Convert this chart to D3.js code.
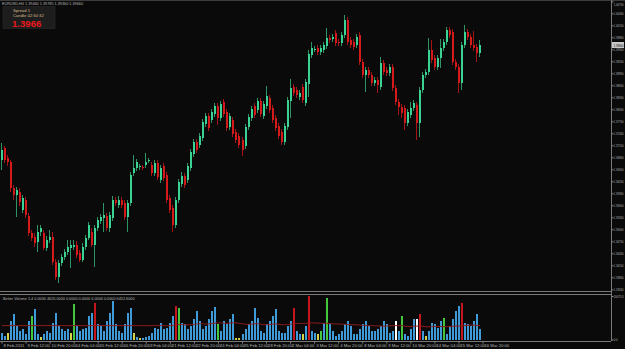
<!DOCTYPE html>
<html>
<head>
<meta charset="utf-8">
<script src="https://cdn.jsdelivr.net/npm/d3@7"></script>
<style>
  body { margin: 0; background: #0a0a0a; }
  svg { display: block; }
  text { font-family: "Liberation Sans", "DejaVu Sans", sans-serif; }
</style>
</head>
<body>
<div id="chart"></div>
<script>
// EURUSD H4 candles
const opens = [
  1.36785,1.37085,1.36835,1.36735,1.36085,1.35910,1.35985,1.35535,1.35785,1.35385,
  1.34960,1.34860,1.34735,1.34985,1.34960,1.34585,1.34785,1.34860,1.34235,1.33860,
  1.34210,1.34360,1.34485,1.34585,1.34610,1.34660,1.34460,1.34285,1.34610,1.34835,
  1.34985,1.34660,1.35085,1.35260,1.35335,1.35385,1.35085,1.35335,1.35785,1.35660,
  1.35785,1.35710,1.35360,1.35710,1.36460,1.36585,1.36610,1.36610,1.36660,1.36760,
  1.36660,1.36460,1.36710,1.36285,1.36635,1.36410,1.35835,1.35585,1.35160,1.35785,
  1.36185,1.36385,1.36285,1.36585,1.36935,1.37235,1.37160,1.37335,1.37685,1.37885,
  1.37785,1.37935,1.38135,1.37835,1.38235,1.37985,1.37610,1.37785,1.37485,1.37385,
  1.37285,1.37135,1.37610,1.37835,1.38135,1.38035,1.38260,1.37885,1.38135,1.38335,
  1.38085,1.37835,1.37635,1.37485,1.37235,1.37610,1.38260,1.38610,1.38535,1.38360,
  1.38610,1.38210,1.38685,1.39410,1.39535,1.39585,1.39485,1.39535,1.39635,1.39835,
  1.39810,1.39960,1.39735,1.39710,1.39910,1.40285,1.39785,1.39735,1.39660,1.39910,
  1.39235,1.38910,1.39035,1.38910,1.38710,1.38785,1.38610,1.39210,1.39035,1.38960,
  1.39110,1.38585,1.38235,1.38110,1.38085,1.37710,1.37910,1.38085,1.38160,1.37710,
  1.38535,1.38910,1.38985,1.39535,1.39335,1.39110,1.39335,1.39585,1.39735,1.40035,
  1.39985,1.39235,1.39110,1.38710,1.39660,1.39985,1.39860,1.39660,1.39610,1.39460
];
const highs = [
  1.37210,1.37135,1.36910,1.36785,1.36160,1.36110,1.36085,1.35910,1.35860,1.35460,
  1.35035,1.34960,1.35160,1.35160,1.35035,1.34885,1.35035,1.34985,1.34310,1.34285,
  1.34435,1.34560,1.34785,1.34785,1.34785,1.34760,1.34535,1.34710,1.34910,1.35235,
  1.35085,1.35160,1.35360,1.35435,1.35710,1.35460,1.35485,1.35885,1.35860,1.35885,
  1.35860,1.35785,1.35785,1.36485,1.36910,1.36810,1.36685,1.36660,1.36960,1.36835,
  1.36735,1.36785,1.36785,1.36660,1.36710,1.36485,1.35910,1.35660,1.35860,1.36310,
  1.36485,1.36460,1.36710,1.37060,1.37310,1.37310,1.37460,1.37810,1.37960,1.37960,
  1.38060,1.38210,1.38210,1.38260,1.38310,1.38060,1.37960,1.37860,1.37560,1.37460,
  1.37360,1.37685,1.37935,1.38135,1.38210,1.38335,1.38335,1.38260,1.38635,1.38410,
  1.38160,1.37910,1.37710,1.37560,1.37710,1.38360,1.38810,1.38685,1.38610,1.38535,
  1.38685,1.38810,1.39535,1.39735,1.39635,1.39660,1.39660,1.39735,1.40085,1.39910,
  1.39935,1.40035,1.39810,1.39985,1.40410,1.40360,1.39860,1.39810,1.39935,1.39985,
  1.39310,1.39110,1.39110,1.38985,1.38860,1.38860,1.39360,1.39285,1.39110,1.39185,
  1.39185,1.38660,1.38310,1.38185,1.38160,1.38060,1.38235,1.38285,1.38235,1.38610,
  1.38985,1.39060,1.39835,1.39785,1.39410,1.39410,1.39810,1.39810,1.40110,1.40110,
  1.40060,1.39310,1.39185,1.39735,1.40160,1.40060,1.39935,1.40010,1.39685,1.39785
];
const lows = [
  1.36535,1.36710,1.36635,1.35985,1.35785,1.35360,1.35635,1.35460,1.35335,1.34885,
  1.34760,1.34610,1.34485,1.34885,1.34535,1.34510,1.34710,1.34160,1.33785,1.33710,
  1.34135,1.34285,1.34410,1.34085,1.34535,1.34335,1.34235,1.34235,1.34535,1.34785,
  1.34610,1.34110,1.35010,1.35185,1.34985,1.35010,1.34985,1.35260,1.35635,1.35585,
  1.35585,1.35285,1.34985,1.35635,1.36385,1.36510,1.36535,1.36535,1.36585,1.36710,
  1.36385,1.36385,1.36285,1.36210,1.36260,1.35710,1.35460,1.34985,1.35085,1.35710,
  1.36110,1.36085,1.36210,1.36510,1.36860,1.36960,1.37085,1.37260,1.37610,1.37510,
  1.37710,1.37860,1.37660,1.37760,1.37860,1.37510,1.37535,1.37360,1.37210,1.37085,
  1.36885,1.37060,1.37535,1.37760,1.37835,1.37960,1.37860,1.37810,1.38060,1.37960,
  1.37710,1.37510,1.37310,1.37160,1.37160,1.37535,1.37835,1.38385,1.38335,1.38285,
  1.38210,1.38135,1.38360,1.39335,1.39485,1.39410,1.39410,1.39460,1.39560,1.39710,
  1.39735,1.39635,1.39635,1.39635,1.39835,1.39660,1.39585,1.39535,1.39585,1.39160,
  1.38835,1.38485,1.38835,1.38635,1.38635,1.38460,1.38535,1.38910,1.38885,1.38885,
  1.38510,1.38160,1.37910,1.37835,1.37535,1.37635,1.37835,1.38010,1.37285,1.37360,
  1.38460,1.38835,1.38910,1.39210,1.39035,1.39035,1.39085,1.39510,1.39660,1.39835,
  1.39160,1.39035,1.38460,1.38535,1.39585,1.39785,1.39585,1.39510,1.39235,1.39360
];
const closes = [
  1.37035,1.36785,1.36735,1.36085,1.35910,1.36035,1.35735,1.35835,1.35410,1.34960,
  1.34835,1.34710,1.34985,1.35085,1.34585,1.34785,1.34860,1.34235,1.33860,1.34210,
  1.34360,1.34485,1.34610,1.34660,1.34660,1.34410,1.34285,1.34610,1.34835,1.35160,
  1.34660,1.35085,1.35285,1.35360,1.35410,1.35085,1.35410,1.35785,1.35710,1.35785,
  1.35660,1.35360,1.35710,1.36410,1.36585,1.36735,1.36635,1.36585,1.36735,1.36785,
  1.36460,1.36710,1.36360,1.36585,1.36335,1.35785,1.35535,1.35160,1.35785,1.36235,
  1.36385,1.36160,1.36635,1.36985,1.37235,1.37035,1.37385,1.37735,1.37885,1.37585,
  1.37985,1.38135,1.37835,1.38185,1.37935,1.37585,1.37885,1.37435,1.37285,1.37160,
  1.37035,1.37610,1.37860,1.38060,1.37910,1.38260,1.37935,1.38185,1.38385,1.38035,
  1.37785,1.37585,1.37385,1.37235,1.37635,1.38285,1.38585,1.38460,1.38410,1.38460,
  1.38285,1.38735,1.39435,1.39585,1.39560,1.39485,1.39585,1.39660,1.39835,1.39785,
  1.39860,1.39710,1.39710,1.39910,1.40285,1.39735,1.39660,1.39610,1.39860,1.39235,
  1.38910,1.39035,1.38910,1.38710,1.38785,1.38660,1.39210,1.38985,1.38960,1.39110,
  1.38585,1.38235,1.38110,1.37960,1.37710,1.37985,1.38085,1.38210,1.37710,1.38535,
  1.38910,1.38985,1.39535,1.39285,1.39110,1.39335,1.39585,1.39735,1.40035,1.39910,
  1.39235,1.39110,1.38710,1.39660,1.39985,1.39860,1.39660,1.39585,1.39460,1.39660
];

// tick volumes
const volumes = [
  3080,1540,3080,8470,11550,6160,3850,4620,2310,8470,
  10780,13860,2310,1232,2310,3850,3080,7700,12320,6160,
  4620,3850,4620,3080,16170,6160,3850,4620,5390,10780,
  12320,16940,6930,6160,3850,8470,12320,17710,6930,3850,
  3080,6930,12320,14630,3080,1232,616,462,1232,1540,
  3080,5390,4620,7700,4620,5390,7700,10780,15400,14630,
  7700,6930,4620,6160,9240,13090,8470,4620,6160,9240,
  13090,15092,6930,3850,8470,6930,9240,11550,462,462,
  2310,4620,6930,8470,14630,10010,3850,3080,6930,8470,
  10780,13860,3850,3080,3080,6160,8470,14630,3850,2310,
  2618,6160,20020,3850,3080,2310,3850,7700,19250,6930,
  3850,1540,2310,3850,6930,8470,6160,2310,2310,4620,
  6930,8470,6160,3850,3850,4620,6160,8470,6930,3080,
  3850,8470,3850,10780,2310,1540,4620,9240,9240,11550,
  3850,1540,3850,7700,6930,5390,8470,10010,2310,6160,
  9240,13090,15400,16940,7700,6930,6160,8470,11550,4620
];
// Better Volume classes (bar indexes), the rest are neutral
const lowVolBars = [2, 13, 23, 44, 46, 78, 79, 100, 105, 141];
const climaxUpBars = [31, 58, 97, 102, 139, 153];
const climaxDownBars = [131, 138];
const churnBars = [10, 24, 59, 72, 106, 108, 133, 147];

// axis labels
const timeLabels = ["8 Feb 2011", "9 Feb 12:00", "10 Feb 20:00", "14 Feb 04:00", "15 Feb 12:00",
  "16 Feb 20:00", "18 Feb 04:00", "21 Feb 12:00", "22 Feb 20:00", "24 Feb 04:00", "25 Feb 12:00",
  "28 Feb 20:00", "2 Mar 04:00", "3 Mar 12:00", "4 Mar 20:00", "8 Mar 04:00", "9 Mar 12:00",
  "10 Mar 20:00", "14 Mar 04:00", "15 Mar 12:00", "16 Mar 20:00"];
const priceTicks = [1.4075, 1.4045, 1.4015, 1.3985, 1.3955, 1.3925, 1.3895, 1.3865, 1.3835,
  1.3805, 1.3775, 1.3745, 1.3715, 1.3685, 1.3655, 1.3625, 1.3595, 1.3565, 1.3535, 1.3505,
  1.3475, 1.3445, 1.3415, 1.3385, 1.3355];
const volumeTicks = [20073.3, 0];
const spread = 1;
const candleTimer = "02:50:32";

const width = 625;
const height = 349;
const axisX = 611;

const svg = d3.select('#chart').append('svg')
  .attr('width', width)
  .attr('height', height);

svg.append('rect')
  .attr('width', width).attr('height', height)
  .attr('fill', '#0a0a0a');

const n = closes.length;
const last = n - 1;

const x = d3.scaleLinear().domain([0, last]).range([1, 479]);
const y = d3.scaleLinear()
  .domain([priceTicks[priceTicks.length - 1], priceTicks[0]])
  .range([289.4, 1.4]);
const yv = d3.scaleLinear().domain([0, volumeTicks[0]]).range([339.5, 296]);

const px = i => Math.round(x(i));

// frame lines
const frame = svg.append('g').attr('stroke', '#7a7a7a').attr('stroke-width', 1);
frame.append('line').attr('x1', 0).attr('x2', width).attr('y1', 0.5).attr('y2', 0.5).attr('stroke', '#3c3c3c');
frame.append('line').attr('x1', axisX + 0.5).attr('x2', axisX + 0.5).attr('y1', 0).attr('y2', 341);
frame.append('line').attr('x1', 0).attr('x2', axisX).attr('y1', 291.5).attr('y2', 291.5);
frame.append('line').attr('x1', 0).attr('x2', axisX).attr('y1', 294.5).attr('y2', 294.5);
frame.append('line').attr('x1', 0).attr('x2', axisX).attr('y1', 341.5).attr('y2', 341.5);

// candles
const idx = d3.range(n);
const bull = i => closes[i] >= opens[i];

const candles = svg.append('g').attr('shape-rendering', 'crispEdges');

candles.selectAll('rect.wick')
  .data(idx)
  .enter()
  .append('rect')
  .attr('class', 'wick')
  .attr('x', i => px(i))
  .attr('y', i => y(highs[i]))
  .attr('width', 1)
  .attr('height', i => Math.max(1, y(lows[i]) - y(highs[i])))
  .attr('fill', i => bull(i) ? '#2e9466' : '#a51414');

candles.selectAll('rect.body')
  .data(idx)
  .enter()
  .append('rect')
  .attr('class', 'body')
  .attr('x', i => px(i))
  .attr('y', i => y(Math.max(opens[i], closes[i])))
  .attr('width', 2)
  .attr('height', i => Math.max(1, Math.abs(y(opens[i]) - y(closes[i]))))
  .attr('fill', i => bull(i) ? '#3bd394' : '#d41a1a');

// right axis labels are squeezed horizontally into the narrow strip
const fitLabel = sel => sel
  .attr('x', 0)
  .attr('transform', 'translate(2.2,0) scale(0.62,1)')
  .attr('fill', '#b4b4b4')
  .style('font-size', '4.4px');

// price axis
const priceAxis = d3.axisRight(y)
  .tickValues(priceTicks)
  .tickFormat(d3.format('.5f'))
  .tickSize(2)
  .tickSizeOuter(0);

const gPrice = svg.append('g')
  .attr('transform', `translate(${axisX + 0.5},0)`)
  .call(priceAxis);
gPrice.select('.domain').remove();
gPrice.selectAll('line').attr('stroke', '#8a8a8a');
gPrice.selectAll('text').call(fitLabel);
// keep the top label inside the window
gPrice.selectAll('text').filter(d => d === priceTicks[0]).attr('dy', '0.9em');

// current price marker
const cur = closes[last];
svg.append('rect')
  .attr('x', axisX + 1).attr('y', y(cur) - 3)
  .attr('width', 12).attr('height', 6)
  .attr('fill', '#c8c8c8');
svg.append('text')
  .attr('transform', `translate(${axisX + 2.7},${y(cur) + 1.5}) scale(0.62,1)`)
  .attr('fill', '#111')
  .style('font-size', '4.4px')
  .text(d3.format('.5f')(cur));

// volume panel
const volClass = i => {
  if (climaxUpBars.includes(i)) return '#c4161c';
  if (climaxDownBars.includes(i)) return '#ffffff';
  if (churnBars.includes(i)) return '#45c63f';
  if (lowVolBars.includes(i)) return '#d6d24a';
  return '#3f9bd8';
};

svg.append('g')
  .attr('shape-rendering', 'crispEdges')
  .selectAll('rect')
  .data(idx)
  .enter()
  .append('rect')
  .attr('x', i => px(i))
  .attr('y', i => yv(volumes[i]))
  .attr('width', 2)
  .attr('height', i => yv(0) - yv(volumes[i]))
  .attr('fill', volClass);

// volume average
const maLen = 50;
const ma = idx.map(i => {
  const end = Math.max(i, maLen - 1);
  return d3.mean(volumes.slice(end - maLen + 1, end + 1));
});

svg.append('path')
  .datum(idx)
  .attr('fill', 'none')
  .attr('stroke', '#8c1b1b')
  .attr('stroke-width', 1)
  .attr('d', d3.line().x(i => x(i) + 1).y(i => yv(ma[i])));

const volAxis = d3.axisRight(yv)
  .tickValues(volumeTicks)
  .tickFormat(d3.format('.1f'))
  .tickSize(2)
  .tickSizeOuter(0);
const gVol = svg.append('g')
  .attr('transform', `translate(${axisX + 0.5},0)`)
  .call(volAxis);
gVol.select('.domain').remove();
gVol.selectAll('line').attr('stroke', '#8a8a8a');
gVol.selectAll('text').call(fitLabel);

// time axis
const labelBars = timeLabels.map((d, k) => k * 8);
const timeAxis = d3.axisBottom(x)
  .tickValues(labelBars)
  .tickFormat((d, k) => timeLabels[k])
  .tickSize(2)
  .tickSizeOuter(0);
const gTime = svg.append('g')
  .attr('transform', 'translate(0.5,341.5)')
  .call(timeAxis);
gTime.select('.domain').remove();
gTime.selectAll('line').attr('stroke', '#8a8a8a');
gTime.selectAll('text')
  .attr('text-anchor', 'start')
  .attr('x', 1.5)
  .attr('y', 3)
  .attr('fill', '#b4b4b4')
  .style('font-size', '4.2px');

// titles
const f5 = d3.format('.5f');
svg.append('text')
  .attr('x', 2).attr('y', 5)
  .attr('fill', '#b4b4b4')
  .style('font-size', '3.8px')
  .text(`EURUSD,H4  ${f5(opens[last])} ${f5(highs[last])} ${f5(lows[last])} ${f5(closes[last])}`);

const f4 = d3.format('.4f');
svg.append('text')
  .attr('x', 3).attr('y', 299.5)
  .attr('fill', '#b4b4b4')
  .style('font-size', '3.8px')
  .text(`Better Volume 1.4 0.0000 ${f4(volumes[last])} 0.0000 0.0000 0.0000 0.0000 ${f4(ma[last])}`);

// info box
svg.append('rect')
  .attr('x', 3).attr('y', 6.5)
  .attr('width', 52).attr('height', 22)
  .attr('fill', '#1d1d1d')
  .attr('stroke', '#2c2c2c')
  .attr('stroke-width', 0.6);
svg.append('text')
  .attr('x', 13).attr('y', 12)
  .attr('fill', '#d8bb8a')
  .style('font-size', '4.2px')
  .text(`Spread  ${spread}`);
svg.append('text')
  .attr('x', 13).attr('y', 16.5)
  .attr('fill', '#d8bb8a')
  .style('font-size', '4.2px')
  .text(`Candle  ${candleTimer}`);
svg.append('text')
  .attr('x', 12).attr('y', 27)
  .attr('fill', '#e8181c')
  .style('font-size', '9.6px')
  .style('font-weight', 'bold')
  .text(d3.format('.4f')(cur));
</script>
</body>
</html>
